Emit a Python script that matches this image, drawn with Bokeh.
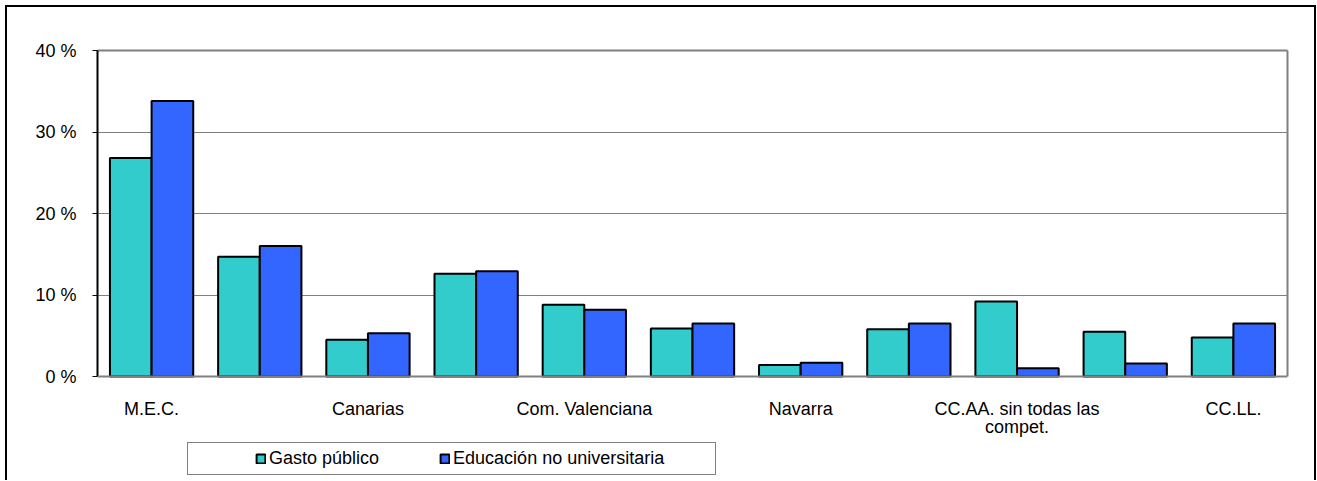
from bokeh.plotting import figure
from bokeh.models import (Range1d, FixedTicker, Legend, LegendItem, LinearAxis,
                          Span, ColumnDataSource, InlineStyleSheet)
from bokeh.core.properties import value
from bokeh.transform import dodge
from bokeh.embed import file_html
from bokeh.resources import INLINE

# ---------------- data ----------------
categories = ["M.E.C.", "Andalucía", "Canarias", "Cataluña", "Com. Valenciana",
              "Galicia", "Navarra", "País Vasco", "CC.AA. sin todas las compet.",
              "Otras Administraciones", "CC.LL."]
shown_labels = ["M.E.C.", "", "Canarias", "", "Com. Valenciana", "", "Navarra", "",
                "CC.AA. sin todas las\ncompet.", "", "CC.LL."]
gasto_publico = [26.8, 14.7, 4.5, 12.6, 8.8, 5.9, 1.4, 5.8, 9.2, 5.5, 4.8]
educacion_no_univ = [33.8, 16.0, 5.3, 12.9, 8.2, 6.5, 1.7, 6.5, 1.0, 1.6, 6.5]
series_names = ["Gasto público", "Educación no universitaria"]
series_colors = ["#33CCCC", "#3366FF"]
y_ticks = [0, 10, 20, 30, 40]
y_tick_labels = ["0 %", "10 %", "20 %", "30 %", "40 %"]
grid_ticks = [10, 20, 30]

FONT = "Liberation Sans"
FS = "18px"
n = len(categories)
idx = list(range(n))
centers = [i + 0.5 for i in idx]
y_max = y_ticks[-1]

# layout: value area is 326 px tall; the frame continues 104 px below 0 %
# so the category labels and the legend can live inside it
AREA_H, BELOW_H = 326, 104
y_min = -y_max * BELOW_H / AREA_H

source = ColumnDataSource(dict(idx=idx, g=gasto_publico, e=educacion_no_univ))
label_src = ColumnDataSource(dict(x=centers, y=[0] * n, t=shown_labels))

p = figure(x_range=Range1d(0, n), y_range=Range1d(y_min, y_max),
           frame_width=1190, frame_height=AREA_H + BELOW_H,
           x_axis_location=None,
           output_backend="svg", toolbar_location=None,
           min_border_left=92, min_border_right=29, min_border_top=45,
           min_border_bottom=0)
p.margin = (5, 0, 0, 5)
p.background_fill_color = "white"
p.border_fill_color = "white"
p.outline_line_color = None

bw = 0.385
r1 = p.vbar(x=dodge("idx", 0.5 - bw / 2), top="g", width=bw, source=source,
            fill_color=series_colors[0], line_color="black", line_width=2)
r2 = p.vbar(x=dodge("idx", 0.5 + bw / 2), top="e", width=bw, source=source,
            fill_color=series_colors[1], line_color="black", line_width=2)

# grid
p.xgrid.visible = False
p.ygrid.ticker = FixedTicker(ticks=grid_ticks)
p.ygrid.grid_line_color = "#808080"
p.ygrid.grid_line_width = 1

# category axis line at 0 %
p.add_layout(Span(location=0, dimension="width", line_color="#808080", line_width=2))

# y axis
p.yaxis.bounds = (0, y_max)
p.yaxis.ticker = FixedTicker(ticks=y_ticks)
p.yaxis.major_label_overrides = dict(zip(y_ticks, y_tick_labels))
p.yaxis.major_tick_out = 5
p.yaxis.major_tick_in = 0
p.yaxis.minor_tick_out = 0
p.yaxis.minor_tick_in = 0
p.yaxis.axis_line_color = "black"
p.yaxis.axis_line_width = 2
p.yaxis.major_tick_line_color = "black"
p.yaxis.major_label_standoff = 16
p.yaxis.major_label_text_font = FONT
p.yaxis.major_label_text_font_size = FS
p.yaxis.major_label_text_color = "black"

# plot-area edges (top and right), grey
top_edge = LinearAxis(ticker=FixedTicker(ticks=[]), axis_line_color="#808080",
                      axis_line_width=2, major_tick_out=0, minor_tick_out=0)
right_edge = LinearAxis(ticker=FixedTicker(ticks=[]), bounds=(0, y_max),
                        axis_line_color="#808080", axis_line_width=2,
                        major_tick_out=0, minor_tick_out=0)
p.add_layout(top_edge, "above")
p.add_layout(right_edge, "right")

# category labels
p.text(x="x", y="y", text="t", source=label_src, y_offset=22,
       text_align="center", text_baseline="top",
       text_font=value(FONT), text_font_size=FS, text_color="black",
       text_line_height=0.92)

legend = Legend(items=[LegendItem(label=series_names[0], renderers=[r1]),
                       LegendItem(label=series_names[1], renderers=[r2])],
                orientation="horizontal", location=(152, 5), margin=0,
                padding=6, spacing=60, label_standoff=3,
                glyph_width=11, glyph_height=11, label_width=0, label_height=20,
                border_line_alpha=0, background_fill_alpha=0,
                label_text_font=FONT, label_text_font_size=FS,
                label_text_color="black")
p.add_layout(legend, "center")

# chart-area border and legend frame (decoration)
p.stylesheets = [InlineStyleSheet(css="""
:host { position: relative; overflow: hidden; }
:host::before { content: ""; position: absolute; left: 0; top: 0; width: 1307px;
  height: 520px; border: 2px solid black; pointer-events: none; z-index: 10; }
:host::after { content: ""; position: absolute; left: 182px; top: 437px; width: 527px;
  height: 31px; border: 1px solid #808080; pointer-events: none; z-index: 10; }
""")]

open("out.html", "w").write(file_html(p, INLINE))
